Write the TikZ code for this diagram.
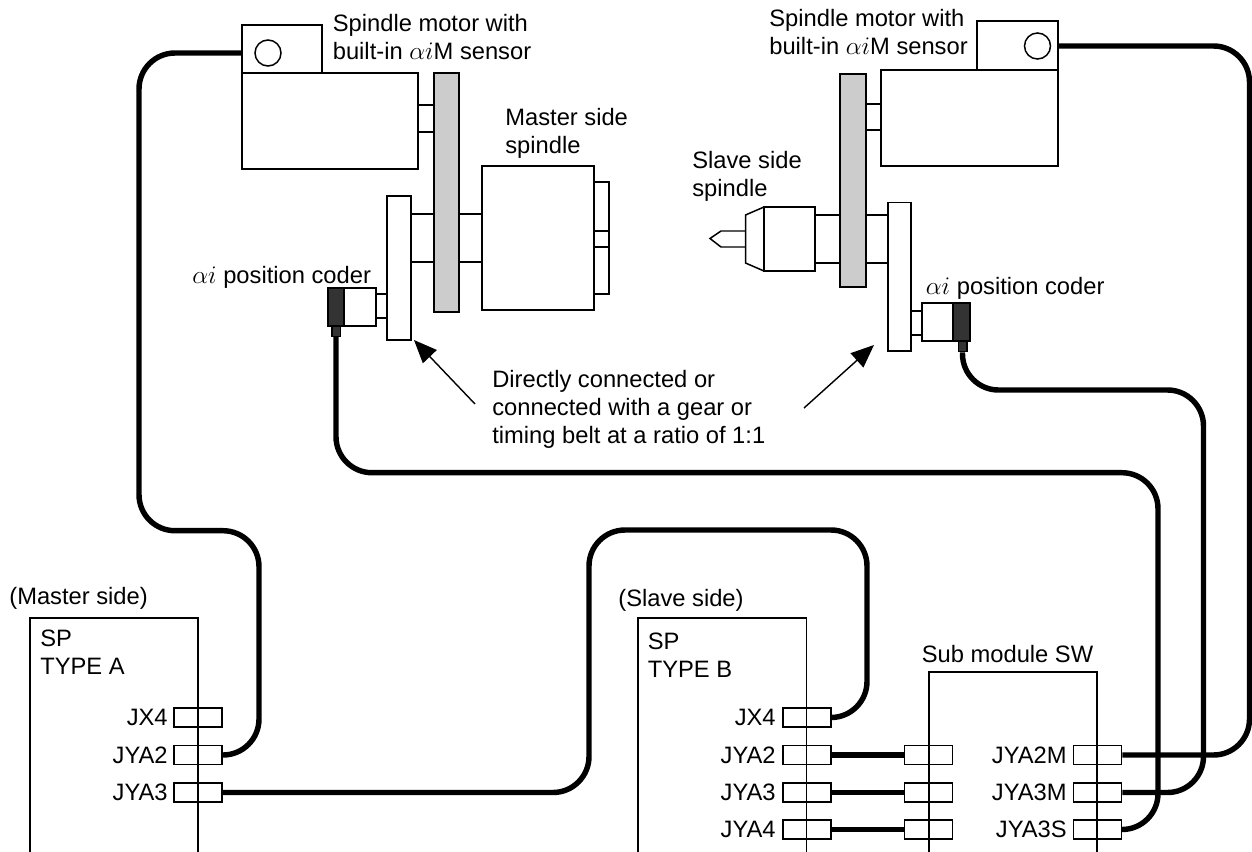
\documentclass[tikz,border=0pt]{standalone}
\usepackage{fontspec}
\setmainfont{Liberation Sans}
\usetikzlibrary{arrows.meta}

\tikzset{
    conn/.style={draw, line width=0.85pt, minimum width=0.96cm, minimum height=0.38cm, inner sep=0pt},
    sensor/.style={draw, line width=0.85pt, inner sep=0pt},
    knob/.style={draw, circle, line width=0.85pt, minimum size=0.52cm, inner sep=0pt},
    plug/.style={draw, fill=black!80, line width=0.85pt, minimum width=0.17cm, minimum height=0.21cm, inner sep=0pt},
    part/.style={draw, line width=0.85pt},
    cable/.style={line width=3.1pt, rounded corners=0.72cm},
    txt/.style={inner sep=0pt, anchor=base west, align=left},
    lbl/.style={inner sep=0pt, anchor=base east},
    pointer/.style={line width=0.8pt, -{Triangle[length=0.46cm, width=0.38cm]}}
}

\begin{document}
\begin{tikzpicture}[x=0.02cm, y=-0.02cm, font=\fontsize{13.5}{15.9}\selectfont]
    \useasboundingbox (0,0) rectangle (1252,852);

    % master side mechanics
    \node[sensor, minimum width=1.6cm, minimum height=0.96cm] (msens) at (282,49) {};
    \node[knob] (mknob) at (268,53) {};
    \draw[part] (242,73) rectangle (418,169);
    \draw[part] (418,105) rectangle (434,132);
    \draw[part, fill=black!20] (434,73) rectangle (459,312);
    \draw[part] (459,214) rectangle (482,262);
    \draw[part] (482,166) rectangle (594,310);
    \draw[part] (594,182) rectangle (609,294);
    \draw[part] (594,231) rectangle (609,247);
    \draw[part] (411,214) rectangle (434,262);
    \draw[part] (387,196) rectangle (411,340);
    \draw[part] (376,294) rectangle (387,318);
    \draw[part] (344,288) rectangle (376,326);
    \draw[part, fill=black!80] (328,288) rectangle (344,326);
    \node[plug] (mplug) at (336,331) {};

    % slave side mechanics
    \node[sensor, minimum width=1.62cm, minimum height=0.98cm] (ssens) at (1017.5,45.5) {};
    \node[knob] (sknob) at (1037.5,46) {};
    \draw[part] (881,70) rectangle (1058,166);
    \draw[part] (866,104) rectangle (881,130);
    \draw[part, fill=black!20] (840,74) rectangle (866,287);
    \draw[part] (764,207) rectangle (815,271);
    \draw[part] (764,207) -- (745.5,215) -- (745.5,263) -- (764,271);
    \draw[part] (745.5,231) -- (721,231) -- (710,238.5) -- (721,247) -- (745.5,247);
    \draw[part] (815,215) rectangle (840,263);
    \draw[part] (866,215) rectangle (888,263);
    \draw[part] (888,202.5) rectangle (911,351);
    \draw[part] (911,311) rectangle (922,335);
    \draw[part] (922,303) rectangle (953,341);
    \draw[part, fill=black!80] (953,303) rectangle (970,341);
    \node[plug] (splug) at (962.5,346.5) {};

    % amplifier boxes, cut off by the page edge
    \draw[part] (30,852) -- (30,618) -- (198,618) -- (198,852);
    \draw[part] (638,852) -- (638,618) -- (806.5,618) -- (806.5,852);
    \draw[part] (929,852) -- (929,672) -- (1097,672) -- (1097,852);

    \node[conn] (ajx4) at (198,717.5) {};
    \node[conn] (ajya2) at (198,755) {};
    \node[conn] (ajya3) at (198,792.5) {};

    \node[conn] (bjx4) at (807,717.5) {};
    \node[conn] (bjya2) at (807,755) {};
    \node[conn] (bjya3) at (807,792.5) {};
    \node[conn] (bjya4) at (807,829.5) {};

    \node[conn] (swa) at (928.5,755) {};
    \node[conn] (swb) at (928.5,792.5) {};
    \node[conn] (swc) at (928.5,829.5) {};

    \node[conn] (swjya2m) at (1097.5,755) {};
    \node[conn] (swjya3m) at (1097.5,792.5) {};
    \node[conn] (swjya3s) at (1097.5,829.5) {};

    % cables
    \draw[cable] (msens.west |- mknob) -| (139,530.7) -| (259,755) -- (ajya2.east);
    \draw[cable] (ajya3.east) -| (589,530) -| (867,717.5) -- (bjx4.east);
    \draw[cable] (ssens.east |- sknob) -| (1249.5,755) -- (swjya2m.east);
    \draw[cable] (mplug.south) |- (1158,472.7) |- (swjya3s.east);
    \draw[cable] (splug.south) |- (1203.5,390) |- (swjya3m.east);
    \draw[cable] (bjya2.east) -- (swa.west);
    \draw[cable] (bjya3.east) -- (swb.west);
    \draw[cable] (bjya4.east) -- (swc.west);

    % pointers to the two discs
    \coordinate (ptra) at (475,404);
    \coordinate (tipa) at (414,340);
    \coordinate (ptrb) at (804,408);
    \coordinate (tipb) at (874,345);
    \draw[pointer] (ptra) -- (tipa);
    \draw[pointer] (ptrb) -- (tipb);

    % texts, placed by the baseline of their last line
    \node[txt] (tmmotor) at (332.5,59) {Spindle motor with\\built-in $\alpha i$M sensor};
    \node[txt] (tmspindle) at (505,153.5) {Master side\\spindle};
    \node[txt] (tmcoder) at (192,283) {$\alpha i$ position coder};
    \node[txt] (tsmotor) at (769,54) {Spindle motor with\\built-in $\alpha i$M sensor};
    \node[txt] (tsspindle) at (692,196.5) {Slave side\\spindle};
    \node[txt] (tscoder) at (925.5,294) {$\alpha i$ position coder};
    \node[txt] (tnote) at (492,443) {Directly connected or\\connected with a gear or\\timing belt at a ratio of 1:1};

    \node[txt] (tmaster) at (9,604) {(Master side)};
    \node[txt] (tslave) at (618,606) {(Slave side)};
    \node[txt] (tspa) at (40,674) {SP\\TYPE A};
    \node[txt] (tspb) at (647.5,677) {SP\\TYPE B};
    \node[txt] (tsub) at (921.5,662) {Sub module SW};

    \node[lbl] (lajx4) at (168,725) {JX4};
    \node[lbl] (lajya2) at (168,763) {JYA2};
    \node[lbl] (lajya3) at (168,800) {JYA3};
    \node[lbl] (lbjx4) at (776,725) {JX4};
    \node[lbl] (lbjya2) at (776,763) {JYA2};
    \node[lbl] (lbjya3) at (776,800) {JYA3};
    \node[lbl] (lbjya4) at (776,837) {JYA4};
    \node[lbl] (lsjya2m) at (1067,763) {JYA2M};
    \node[lbl] (lsjya3m) at (1067,800) {JYA3M};
    \node[lbl] (lsjya3s) at (1067,837) {JYA3S};
\end{tikzpicture}
\end{document}
